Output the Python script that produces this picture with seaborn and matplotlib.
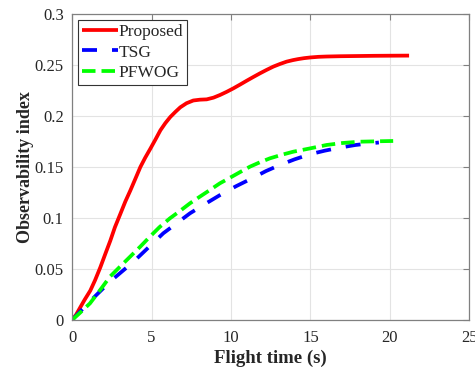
import matplotlib
matplotlib.use("Agg")
import matplotlib.pyplot as plt
import seaborn as sns
import pandas as pd

# ---- data ----
proposed_x = [0, 0.25, 0.52, 0.8, 1.15, 1.45, 1.78, 2.1, 2.41, 2.7, 3.04, 3.35, 3.67, 4.0,
              4.3, 4.6, 4.93, 5.25, 5.56, 5.87, 6.18, 6.5, 6.81, 7.2, 7.63, 8.05, 8.47,
              8.9, 9.31, 9.73, 10.15, 10.57, 10.99, 11.4, 11.82, 12.24, 12.66, 13.08,
              13.5, 13.9, 14.23, 14.6, 15.0, 15.5, 16.0, 16.9, 18.0, 19.0, 20.0, 21.2]
proposed_y = [0, 0.005, 0.0124, 0.020, 0.0288, 0.039, 0.0516, 0.065, 0.0778, 0.091, 0.104,
              0.116, 0.127, 0.139, 0.150, 0.159, 0.168, 0.177, 0.186, 0.193, 0.199, 0.204,
              0.2085, 0.2125, 0.2152, 0.216, 0.2163, 0.218, 0.2206, 0.2237, 0.2271,
              0.2308, 0.2346, 0.2382, 0.2418, 0.2452, 0.2484, 0.251, 0.2533, 0.2548,
              0.2558, 0.2567, 0.2574, 0.258, 0.2583, 0.2586, 0.2588, 0.259, 0.2591, 0.2592]
tsg_x = [0, 0.71, 1.5, 2.39, 3.1, 3.86, 4.8, 5.74, 6.6, 7.42, 8.4, 9.31, 10.3, 11.4, 12.2,
         13.08, 14.0, 14.97, 15.9, 16.86, 17.8, 18.74, 19.3]
tsg_y = [0, 0.0115, 0.024, 0.0376, 0.047, 0.057, 0.071, 0.085, 0.095, 0.1046, 0.114,
         0.1225, 0.131, 0.1395, 0.146, 0.152, 0.1575, 0.1625, 0.166, 0.169, 0.1715,
         0.1732, 0.174]
pfwog_x = [0, 0.5, 1.13, 1.75, 2.39, 3.0, 3.65, 4.3, 4.9, 5.5, 6.16, 6.8, 7.42, 8.05,
           8.68, 9.3, 9.94, 10.57, 11.19, 11.8, 12.45, 13.2, 13.92, 14.9, 16.02, 17.0,
           18.11, 19.2, 20.2]
pfwog_y = [0, 0.007, 0.0163, 0.029, 0.0425, 0.052, 0.062, 0.072, 0.0817, 0.091, 0.0997,
           0.107, 0.1144, 0.121, 0.1275, 0.134, 0.1395, 0.145, 0.1503, 0.1545, 0.1585,
           0.162, 0.165, 0.168, 0.1716, 0.1735, 0.1748, 0.1752, 0.1755]
series_names = ["Proposed", "TSG", "PFWOG"]
x_ticks = [0, 5, 10, 15, 20, 25]
y_ticks = [0, 0.05, 0.1, 0.15, 0.2, 0.25, 0.3]
y_tick_labels = ["0", "0.05", "0.1", "0.15", "0.2", "0.25", "0.3"]

frames = []
for name, xs, ys in zip(series_names, [proposed_x, tsg_x, pfwog_x], [proposed_y, tsg_y, pfwog_y]):
    frames.append(pd.DataFrame({"t": xs, "v": ys, "method": name}))
df = pd.concat(frames, ignore_index=True)

sns.set_style("white")
plt.rcParams["font.family"] = ["Liberation Serif", "DejaVu Serif"]

fig = plt.figure(figsize=(4.75, 3.72), dpi=100)
ax = fig.add_axes([0.1516, 0.1398, 0.9884 - 0.1516, 0.9624 - 0.1398])

palette = {"Proposed": "#ff0000", "TSG": "#0000ff", "PFWOG": "#00ff00"}
dashes = {"Proposed": "", "TSG": (4.0, 4.0), "PFWOG": (3.6, 1.6)}
sns.lineplot(data=df, x="t", y="v", hue="method", style="method",
             hue_order=series_names, style_order=series_names,
             palette=palette, dashes=dashes, linewidth=2.7, ax=ax,
             estimator=None, sort=False)
for ln in ax.get_lines():
    ln.set_solid_joinstyle("round")
    ln.set_solid_capstyle("butt")

ax.set_xlim(0, 25)
ax.set_ylim(0, 0.3)
ax.set_xticks(x_ticks)
ax.set_xticklabels([str(v) for v in x_ticks])
ax.set_yticks(y_ticks)
ax.set_yticklabels(y_tick_labels)
ax.grid(True, color="#e3e3e3", linewidth=0.8)
ax.set_axisbelow(True)
for s in ax.spines.values():
    s.set_visible(True)
    s.set_color("#808080")
    s.set_linewidth(0.9)
ax.tick_params(direction="in", length=4, width=0.8, color="#808080",
               top=True, right=True, labelsize=12, labelcolor="#262626")
ax.tick_params(axis="x", pad=7)
ax.tick_params(axis="y", pad=6)
ax.set_xlabel("Flight time (s)", fontsize=13.5, fontweight="bold", labelpad=3)
ax.set_ylabel("Observability index", fontsize=13, fontweight="bold", labelpad=0)

leg = ax.legend(loc="upper left", fontsize=12.5, frameon=True, fancybox=False,
                framealpha=1, edgecolor="#333333", borderaxespad=0.35,
                handlelength=2.1, handletextpad=0.05, borderpad=0.2,
                labelspacing=0.27)
leg.get_frame().set_linewidth(0.8)

fig.savefig("out.png", dpi=100)
